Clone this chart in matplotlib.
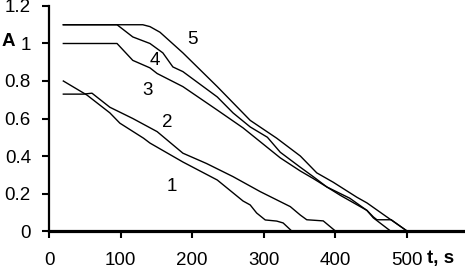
import matplotlib
matplotlib.use('Agg')
import matplotlib.pyplot as plt

plt.rcParams['font.family'] = ['Liberation Sans', 'DejaVu Sans']

# curve data (t in s, A)
t1 = [20, 53, 85, 99, 132, 141, 187, 235, 271, 281, 290, 302, 318, 327, 339]
a1 = [0.80, 0.725, 0.63, 0.575, 0.495, 0.469, 0.368, 0.272, 0.16, 0.139, 0.096, 0.059, 0.053, 0.043, 0.0]

t2 = [20, 48, 60, 85, 117, 151, 187, 220, 257, 295, 337, 351, 360, 383, 400]
a2 = [0.73, 0.73, 0.735, 0.66, 0.60, 0.53, 0.415, 0.36, 0.29, 0.21, 0.13, 0.085, 0.06, 0.054, 0.0]

t3 = [20, 95, 117, 141, 151, 187, 235, 271, 323, 351, 369, 388, 407, 444, 453, 477]
a3 = [1.0, 1.0, 0.91, 0.87, 0.84, 0.77, 0.645, 0.55, 0.39, 0.32, 0.28, 0.235, 0.19, 0.11, 0.07, 0.0]

t4 = [20, 95, 117, 141, 159, 173, 187, 235, 257, 281, 305, 323, 351, 369, 388, 420, 444, 453, 458, 478, 500]
a4 = [1.1, 1.1, 1.035, 1.0, 0.95, 0.875, 0.85, 0.715, 0.63, 0.555, 0.50, 0.42, 0.34, 0.29, 0.235, 0.175, 0.11, 0.075, 0.06, 0.06, 0.0]

t5 = [20, 131, 141, 155, 187, 235, 281, 318, 351, 374, 397, 430, 444, 470, 500]
a5 = [1.1, 1.1, 1.09, 1.06, 0.95, 0.77, 0.59, 0.495, 0.40, 0.31, 0.26, 0.18, 0.15, 0.08, 0.0]

curve_labels = ['1', '2', '3', '4', '5']
label_t = [172, 165, 137, 148, 200]
label_a = [0.235, 0.58, 0.75, 0.91, 1.02]

x_ticks = [0, 100, 200, 300, 400, 500]
y_ticks = [0, 0.2, 0.4, 0.6, 0.8, 1.0, 1.2]
y_tick_labels = ['0', '0.2', '0.4', '0.6', '0.8', '1', '1.2']

fig = plt.figure(figsize=(4.65, 2.7), dpi=100)
ax = fig.add_axes([0.1054, 0.1444, 0.8946, 0.8334])

for t, a in [(t1, a1), (t2, a2), (t3, a3), (t4, a4), (t5, a5)]:
    ax.plot(t, a, color='black', linewidth=1.0)

for lab, x, y in zip(curve_labels, label_t, label_a):
    ax.text(x, y, lab, fontsize=13.5, ha='center', va='center')

ax.set_xlim(0, 581)
ax.set_ylim(0, 1.2)
ax.set_xticks(x_ticks)
ax.set_yticks(y_ticks)
ax.set_yticklabels(y_tick_labels)

ax.spines['top'].set_visible(False)
ax.spines['right'].set_visible(False)
ax.spines['left'].set_linewidth(1.6)
ax.spines['bottom'].set_linewidth(2.3)
ax.tick_params(axis='both', direction='out', length=5, width=1.5, labelsize=13.5)
ax.tick_params(axis='x', pad=10)
ax.tick_params(axis='y', pad=8)

fig.text(8 / 465, 1 - 42 / 270, 'A', fontsize=13.5, fontweight='bold', ha='center', va='center')
fig.text(441 / 465, 1 - 258 / 270, 't, s', fontsize=13.5, fontweight='bold', ha='center', va='center')

plt.savefig('out.png', dpi=100)
